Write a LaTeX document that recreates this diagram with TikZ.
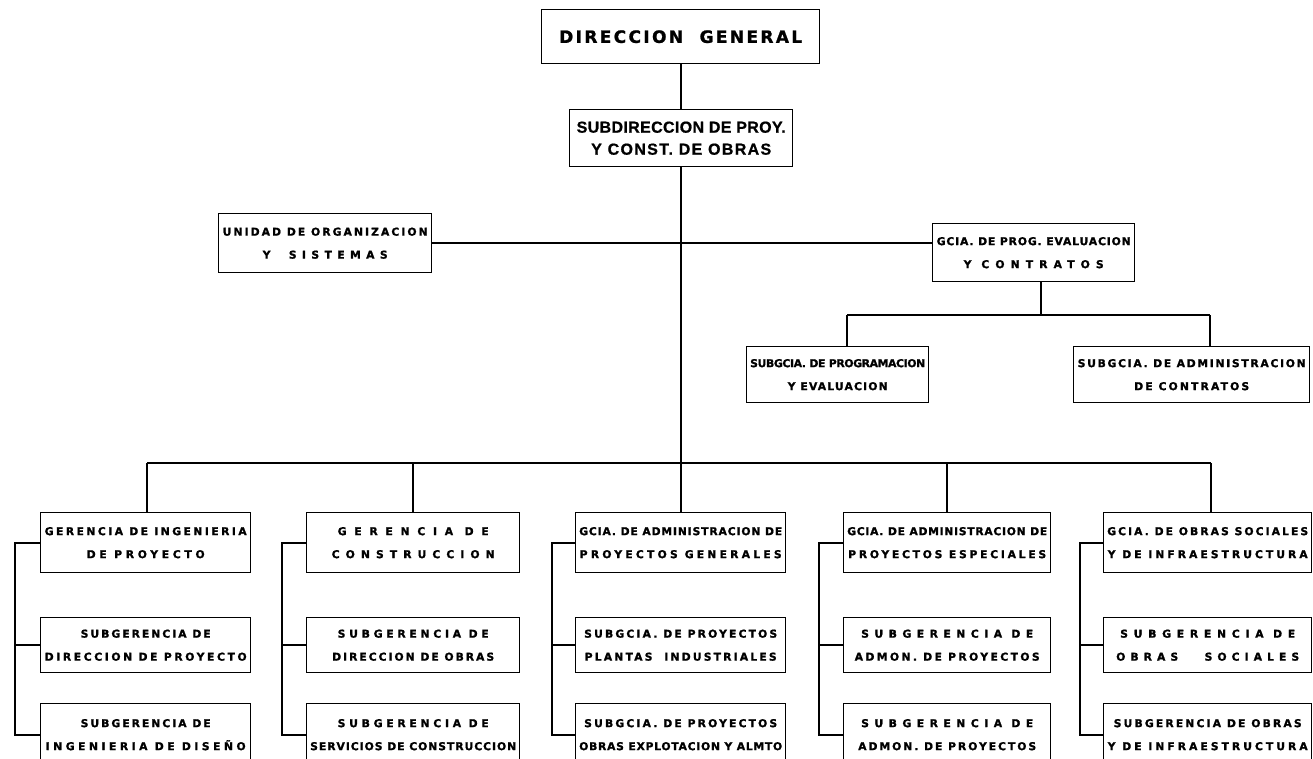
\documentclass[tikz,border=0pt]{standalone}
\usepackage{fontspec}
\setmainfont{DejaVu Sans}[BoldFeatures={FakeBold=1.2}]
\newfontfamily\headfont{Liberation Sans}[BoldFeatures={FakeBold=0.8}]

% Stretch (or squeeze) the letter spacing of #2 so that the line is #1 pt wide
\newlength\fitA
\newlength\fitB
\newcommand\fitline[2]{%
  \settowidth\fitA{#2}%
  \settowidth\fitB{\addfontfeature{LetterSpace=50}#2}%
  \pgfmathsetmacro\fitls{50*(#1-\fitA)/(\fitB-\fitA)}%
  {\addfontfeature{LetterSpace=\fitls}#2}}

\tikzset{
  box/.style={draw, line width=1.4pt, inner sep=0pt, anchor=north west,
    align=center, font=\bfseries\fontsize{10.8}{23}\selectfont},
  conn/.style={draw, line width=2.4pt, line join=miter},
}

\begin{document}
\begin{tikzpicture}[x=1pt, y=-1pt]
\clip (0,0) rectangle (1313,758);
\fill[white] (0,0) rectangle (1313,758);

% ---- top of the chart
\node[box, minimum width=278, minimum height=54,
  font=\bfseries\fontsize{17}{20}\selectfont] (dg) at (541,9)
  {\fitline{243}{DIRECCION\ \ GENERAL}};
\node[box, minimum width=223, minimum height=57,
  font=\headfont\bfseries\fontsize{16}{22}\selectfont] (sub) at (569,109)
  {\fitline{209}{SUBDIRECCION DE PROY.}\\\fitline{180}{Y CONST. DE OBRAS}};

% ---- staff units
\node[box, minimum width=213, minimum height=59] (uni) at (218,213)
  {\fitline{205}{UNIDAD DE ORGANIZACION}\\\fitline{125}{Y\ \ SISTEMAS}};
\node[box, minimum width=202, minimum height=58] (gcp) at (932,223)
  {\fitline{194}{GCIA. DE PROG. EVALUACION}\\\fitline{140}{Y\ CONTRATOS}};
\node[box, minimum width=182, minimum height=56] (sp) at (746,346)
  {\fitline{175}{SUBGCIA. DE PROGRAMACION}\\\fitline{100}{Y EVALUACION}};
\node[box, minimum width=236, minimum height=56] (sa) at (1073,346)
  {\fitline{228}{SUBGCIA. DE ADMINISTRACION}\\\fitline{115}{DE CONTRATOS}};

% ---- column 1
\node[box, minimum width=210, minimum height=60] (a1) at (40,512)
  {\fitline{202}{GERENCIA DE INGENIERIA}\\\fitline{118}{DE PROYECTO}};
\node[box, minimum width=210, minimum height=55] (b1) at (40,617)
  {\fitline{130}{SUBGERENCIA\ DE}\\\fitline{202}{DIRECCION DE PROYECTO}};
\node[box, minimum width=210, minimum height=62] (c1) at (40,703)
  {\fitline{130}{SUBGERENCIA\ DE}\\\fitline{200}{INGENIERIA DE DISEÑO}};

% ---- column 2
\node[box, minimum width=213, minimum height=60] (a2) at (306,512)
  {\fitline{151}{GERENCIA DE}\\\fitline{163}{CONSTRUCCION}};
\node[box, minimum width=213, minimum height=55] (b2) at (306,617)
  {\fitline{151}{SUBGERENCIA\ DE}\\\fitline{162}{DIRECCION DE OBRAS}};
\node[box, minimum width=213, minimum height=62] (c2) at (306,703)
  {\fitline{151}{SUBGERENCIA\ DE}\\\fitline{206}{SERVICIOS DE CONSTRUCCION}};

% ---- column 3
\node[box, minimum width=210, minimum height=60] (a3) at (575,512)
  {\fitline{203}{GCIA. DE ADMINISTRACION DE}\\\fitline{202}{PROYECTOS\ GENERALES}};
\node[box, minimum width=210, minimum height=55] (b3) at (575,617)
  {\fitline{193}{SUBGCIA. DE PROYECTOS}\\\fitline{192}{PLANTAS\ \ INDUSTRIALES}};
\node[box, minimum width=210, minimum height=62] (c3) at (575,703)
  {\fitline{193}{SUBGCIA. DE PROYECTOS}\\\fitline{203}{OBRAS EXPLOTACION Y ALMTO}};

% ---- column 4
\node[box, minimum width=207, minimum height=60] (a4) at (843,512)
  {\fitline{200}{GCIA. DE ADMINISTRACION DE}\\\fitline{198}{PROYECTOS ESPECIALES}};
\node[box, minimum width=207, minimum height=55] (b4) at (843,617)
  {\fitline{172}{SUBGERENCIA\ DE}\\\fitline{185}{ADMON. DE PROYECTOS}};
\node[box, minimum width=207, minimum height=62] (c4) at (843,703)
  {\fitline{172}{SUBGERENCIA\ DE}\\\fitline{178}{ADMON. DE PROYECTOS}};

% ---- column 5
\node[box, minimum width=208, minimum height=60] (a5) at (1103,512)
  {\fitline{201}{GCIA. DE OBRAS SOCIALES}\\\fitline{200}{Y DE INFRAESTRUCTURA}};
\node[box, minimum width=208, minimum height=55] (b5) at (1103,617)
  {\fitline{175}{SUBGERENCIA\ DE}\\\fitline{183}{OBRAS\ \ \ SOCIALES}};
\node[box, minimum width=208, minimum height=62] (c5) at (1103,703)
  {\fitline{188}{SUBGERENCIA DE OBRAS}\\\fitline{200}{Y DE INFRAESTRUCTURA}};

% ---- junction points of the connectors
\coordinate (busL) at (147,463);
\coordinate (busR) at (1211,463);
\coordinate (pj) at (1041,315);
\coordinate (pL) at (847,315);
\coordinate (pR) at (1210,315);
\coordinate (k1) at (15,0);
\coordinate (k2) at (282,0);
\coordinate (k3) at (552,0);
\coordinate (k4) at (819,0);
\coordinate (k5) at (1080,0);

% ---- connectors
\draw[conn] (dg.south) -- (dg.south |- sub.north);
\draw[conn] (sub.south) -- (sub.south |- busL);
\draw[conn] (uni.east) -- (uni.east -| gcp.west);
\draw[conn] (gcp.south -| pj) -- (pj);
\draw[conn] (pL) -- (pR);
\draw[conn] (pL) -- (pL |- sp.north);
\draw[conn] (pR) -- (pR |- sa.north);
\draw[conn] (busL) -- (busR);
\draw[conn] (busL) -- (busL |- a1.north);
\draw[conn] (a2.north |- busL) -- (a2.north);
\draw[conn] (a3.north |- busL) -- (a3.north);
\draw[conn] (a4.north |- busL) -- (a4.north);
\draw[conn] (busR) -- (busR |- a5.north);
\foreach \i in {1,...,5}{
  \draw[conn] (a\i.west) -- (a\i.west -| k\i) -- (c\i.west -| k\i) -- (c\i.west);
  \draw[conn] (b\i.west -| k\i) -- (b\i.west);
}
\end{tikzpicture}
\end{document}
